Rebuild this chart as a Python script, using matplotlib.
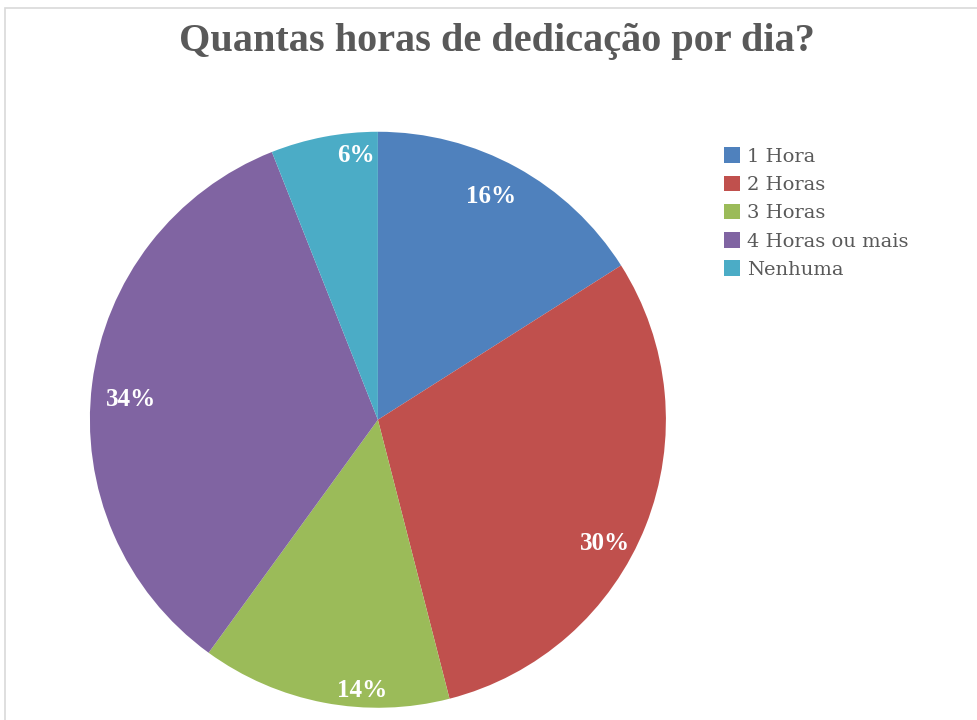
import matplotlib
matplotlib.use("Agg")
import matplotlib.pyplot as plt
import numpy as np
from matplotlib.patches import Rectangle

# dados do gráfico
categorias = ["1 Hora", "2 Horas", "3 Horas", "4 Horas ou mais", "Nenhuma"]
valores = [16, 30, 14, 34, 6]
cores = ["#4f81bd", "#c0504d", "#9bbb59", "#8064a2", "#4bacc6"]
titulo = "Quantas horas de dedicação por dia?"

# posição dos rótulos (estilo "melhor ajuste" do Excel)
label_raio = [0.87, 0.90, 0.94, 0.86, 0.92]
label_desvio = [2, -7, 7.5, 2.5, -6]

fig = plt.figure(figsize=(9.77, 7.2), dpi=100)

# moldura cinza clara do gráfico
fig.patches.append(Rectangle((0.005, -0.01), 1.2, 0.999, transform=fig.transFigure,
                             fill=False, edgecolor="#d9d9d9", linewidth=1.2))

ax = fig.add_axes([0.092, 0.017, 0.5896, 0.8])
fatias, textos, pcts = ax.pie(valores, colors=cores, startangle=90, counterclock=False,
                              autopct="%1.0f%%", pctdistance=0.89,
                              wedgeprops=dict(linewidth=0))
ax.set_xlim(-1, 1)
ax.set_ylim(-1, 1)
ax.set_aspect("equal")
for w, t, r, d in zip(fatias, pcts, label_raio, label_desvio):
    ang = np.deg2rad((w.theta1 + w.theta2) / 2 + d)
    t.set_position((r * np.cos(ang), r * np.sin(ang)))
    t.set_color("white")
    t.set_fontweight("bold")
    t.set_fontsize(18)
    t.set_family("Liberation Serif")

fig.text(0.509, 0.942, titulo, ha="center", va="center", fontsize=29,
         fontweight="bold", color="#595959", family="Liberation Serif")

leg = fig.legend(fatias, categorias, loc="upper left", bbox_to_anchor=(0.733, 0.806),
                 frameon=False, prop={"family": "DejaVu Serif", "size": 14},
                 handlelength=0.85, handleheight=0.85, handletextpad=0.35,
                 labelspacing=0.5, borderaxespad=0)
for t in leg.get_texts():
    t.set_color("#595959")

fig.savefig("out.png", dpi=100)
